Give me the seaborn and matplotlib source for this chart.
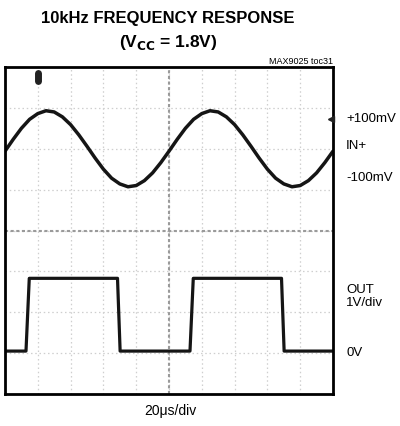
"""
Scope capture: 10kHz frequency response, MAX9025 (VCC = 1.8V)
"""

import matplotlib
matplotlib.use("Agg")
import matplotlib.pyplot as plt
import seaborn as sns
import pandas as pd
import numpy as np

sns.set_style("white")
plt.rcParams['font.family'] = ['Liberation Sans Narrow', 'Liberation Sans', 'DejaVu Sans']
plt.rcParams['text.color'] = 'black'

# screen is 10 x 8 divisions, values below are in divisions
time_div = [i * 0.25 for i in range(41)]
in_plus = [1.94, 2.23, 2.50, 2.72, 2.86, 2.93, 2.90, 2.78, 2.59, 2.34,
           2.06, 1.77, 1.50, 1.28, 1.14, 1.07, 1.10, 1.22, 1.41, 1.66,
           1.94, 2.23, 2.50, 2.72, 2.86, 2.93, 2.90, 2.78, 2.59, 2.34,
           2.06, 1.77, 1.50, 1.28, 1.14, 1.07, 1.10, 1.22, 1.41, 1.66,
           1.94]

out_time = [0.0, 0.64, 0.74, 3.43, 3.51, 5.64, 5.74, 8.43, 8.51, 10.0]
out_level = [-2.95, -2.95, -1.17, -1.17, -2.95, -2.95, -1.17, -1.17, -2.95, -2.95]

right_labels = ['+100mV', 'IN+', '-100mV', 'OUT\n1V/div', '0V']
right_label_y = [2.75, 2.1, 1.3, -1.6, -2.98]

sine = pd.DataFrame({'t': time_div, 'v': in_plus})
square = pd.DataFrame({'t': out_time, 'v': out_level})

fig = plt.figure(figsize=(4.0, 4.27), dpi=100)
ax = fig.add_axes([5 / 400, 1 - 395 / 427, 328 / 400, 327 / 427])

# graticule
for gx in range(1, 10):
    ax.axvline(gx, color='#cfcfcf', lw=0.9, ls=(0, (1.2, 2.2)), zorder=1)
for gy in range(-3, 4):
    ax.axhline(gy, color='#cfcfcf', lw=0.9, ls=(0, (1.2, 2.2)), zorder=1)
ax.axvline(5, color='#9a9a9a', lw=1.5, ls=(0, (1.5, 1.2)), zorder=1)
ax.axhline(0, color='#9a9a9a', lw=1.5, ls=(0, (1.5, 1.2)), zorder=1)

sns.lineplot(data=sine, x='t', y='v', ax=ax, color='#151515', lw=2.5,
             estimator=None, sort=False)
sns.lineplot(data=square, x='t', y='v', ax=ax, color='#151515', lw=2.3,
             estimator=None, sort=False)

# trigger marker and channel marker
ax.plot([1.0, 1.0], [3.85, 3.65], color='#222222', lw=5, solid_capstyle='round',
        zorder=4)
ax.plot([9.95], [2.72], marker='<', color='#222222', ms=5, clip_on=False, zorder=4)

ax.set_xlim(0, 10)
ax.set_ylim(-4, 4)
ax.set_xticks([])
ax.set_yticks([])
ax.set_xlabel('')
ax.set_ylabel('')
for sp in ax.spines.values():
    sp.set_visible(True)
    sp.set_color('black')
    sp.set_linewidth(2.0)

for lab, ly in zip(right_labels, right_label_y):
    ax.text(10.4, ly, lab, ha='left', va='center', fontsize=9.5,
            linespacing=1.1, transform=ax.transData, clip_on=False)

fig.text(168 / 400, 1 - 18 / 427, '10kHz FREQUENCY RESPONSE', ha='center',
         va='center', fontsize=12, fontweight='bold')
fig.text(168 / 400, 1 - 42 / 427, r'(V$_{\mathbf{CC}}$ = 1.8V)', ha='center',
         va='center', fontsize=12.5, fontweight='bold')
fig.text(333 / 400, 1 - 62 / 427, 'MAX9025 toc31', ha='right', va='center',
         fontsize=6.5)
fig.text(170 / 400, 1 - 411 / 427, '20\u03bcs/div', ha='center', va='center',
         fontsize=10)

plt.savefig('out.png', dpi=100)
plt.close()
